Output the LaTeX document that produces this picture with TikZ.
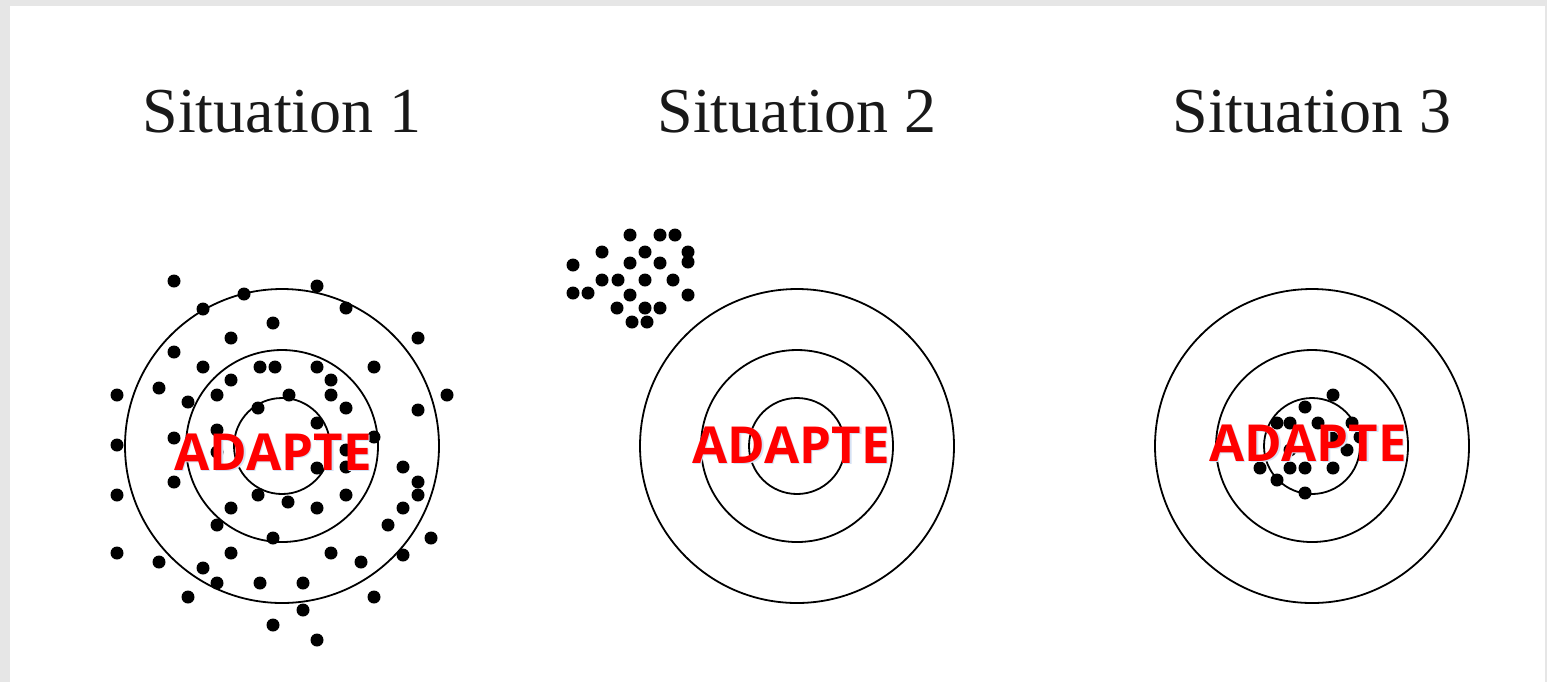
\documentclass[tikz,border=0pt]{standalone}
\usepackage{fontspec}
\usepackage{xcolor}
\usepackage{tikz}
\newfontfamily\stampfont{Open Sans}[UprightFont=*-Bold]
\newfontfamily\sitfont{Liberation Serif}
\definecolor{framegray}{HTML}{E6E6E6}
\definecolor{stampred}{HTML}{FF0000}
\definecolor{glowblue}{HTML}{D6E2F4}

\begin{document}
\begin{tikzpicture}[x=0.5pt, y=-0.5pt,
    ring/.style={line width=0.9pt},
    shot/.style={fill=black},
    title/.style={anchor=base, inner sep=0pt, text=black!90, font=\sitfont\fontsize{32}{34}\selectfont},
    stamp/.style={anchor=base, inner sep=0pt, text=stampred, font=\stampfont\fontsize{25.5}{28}\selectfont},
    glow/.style={anchor=base, inner sep=0pt, text=glowblue, font=\stampfont\fontsize{25.5}{28}\selectfont}]
    % Frame
    \fill[framegray] (0,0) rectangle (1547,682);
    \fill[white] (10,6) rectangle (1545,682);
    \useasboundingbox (0,0) rectangle (1547,682);

    % Titles
    \node (sit1) [title] at (282,132) {Situation 1};
    \node (sit2) [title] at (797,132) {Situation 2};
    \node (sit3) [title] at (1312,132) {Situation 3};

    % Targets
    \foreach \cx in {282,797,1312} {
        \draw[ring] (\cx,446) circle [radius=157];
        \draw[ring] (\cx,446) circle [radius=96];
        \draw[ring] (\cx,446) circle [radius=48];
    }

    % Shots, situation 1
    \foreach \p in {(174,281),(244,294),(317,286),(203,309),(346,308),(273,323),
        (231,338),(418,338),(174,352),(203,367),(260,367),(275,367),(317,367),
        (374,367),(231,380),(331,380),(159,388),(331,395),(117,395),(447,395),
        (217,395),(289,395),(188,402),(258,408),(346,408),(418,410),(317,423),
        (217,430),(374,437),(174,438),(117,445),(217,452),(346,450),(317,468),
        (346,467),(403,467),(174,482),(418,482),(117,495),(418,495),(258,495),
        (288,502),(346,495),(403,508),(231,508),(317,508),(217,525),(388,525),
        (273,538),(431,538),(117,553),(159,562),(231,553),(331,553),(361,562),
        (403,555),(203,568),(217,583),(260,583),(303,583),(188,597),(374,597),
        (303,610),(273,625),(317,640)}
        \fill[shot] \p circle [radius=6.5];

    % Shots, situation 2
    \foreach \p in {(630,235),(660,235),(675,235),(602,252),(645,252),(688,252),
        (688,262),(573,265),(630,263),(660,263),(602,280),(618,280),(645,280),
        (673,280),(573,293),(588,293),(630,295),(688,295),(617,308),(645,308),
        (660,308),(632,322),(647,322)}
        \fill[shot] \p circle [radius=6.5];

    % Shots, situation 3
    \foreach \p in {(1333,395),(1305,407),(1277,423),(1290,423),(1318,423),
        (1352,423),(1332,438),(1360,437),(1290,450),(1347,450),(1260,468),
        (1290,468),(1305,468),(1333,468),(1277,480),(1305,493)}
        \fill[shot] \p circle [radius=6.5];

    % Stamps
    \node [glow] at (274.5,471.5) {ADAPTE};
    \node (stamp1) [stamp] at (273,470) {ADAPTE};
    \node [glow] at (792.5,464.5) {ADAPTE};
    \node (stamp2) [stamp] at (791,463) {ADAPTE};
    \node [glow] at (1309.5,462.5) {ADAPTE};
    \node (stamp3) [stamp] at (1308,461) {ADAPTE};
\end{tikzpicture}
\end{document}
